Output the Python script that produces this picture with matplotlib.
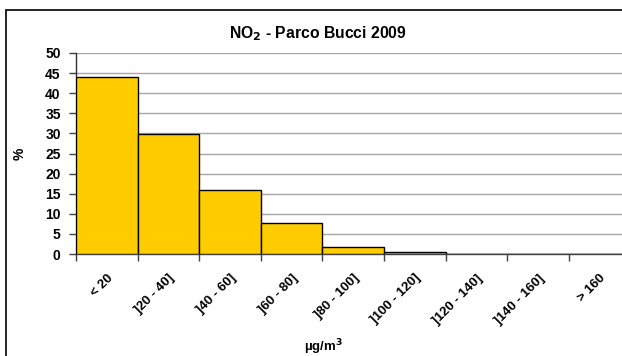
import matplotlib
matplotlib.use("Agg")
import matplotlib.pyplot as plt
from matplotlib.patches import Rectangle
import matplotlib.transforms as mtransforms

plt.rcParams['font.family'] = ['Liberation Sans', 'DejaVu Sans']
plt.rcParams['font.weight'] = 'bold'

categories = ["< 20", "]20 - 40]", "]40 - 60]", "]60 - 80]", "]80 - 100]",
              "]100 - 120]", "]120 - 140]", "]140 - 160]", "> 160"]
values = [44.0, 29.8, 15.9, 7.8, 1.75, 0.5, 0.0, 0.0, 0.0]
yticks = [0, 5, 10, 15, 20, 25, 30, 35, 40, 45, 50]

W, H = 622, 356
fig = plt.figure(figsize=(W / 100, H / 100), dpi=100)

# outer chart frame (extends beyond right/bottom like the cropped original)
fig.patches.append(Rectangle((5.5 / W, -0.1), 1.2, (H - 10) / H + 0.1,
                             transform=fig.transFigure, fill=False,
                             edgecolor='black', lw=1.2))

left, right, top, bottom = 76, 640, 53, 254
ax = fig.add_axes([left / W, (H - bottom) / H, (right - left) / W, (bottom - top) / H])
catw = 61.6
ncat = (right - left) / catw
x = list(range(len(categories)))
ax.bar(x, values, width=1.0, color='#FFCC00', edgecolor='black', lw=1.0, zorder=3)
ax.set_xlim(-0.5, -0.5 + ncat)
ax.set_ylim(0, 50)
ax.set_yticks(yticks)
ax.set_yticklabels([str(v) for v in yticks], fontsize=10, fontweight='bold')
ax.yaxis.grid(True, color='#A6A6A6', lw=1.0, zorder=0)
ax.set_axisbelow(True)

boundaries = [i - 0.5 for i in range(len(categories) + 1)]
ax.set_xticks(boundaries)
ax.set_xticklabels([])
ax.set_xticks(x, minor=True)
ax.set_xticklabels(categories, minor=True, rotation=45, ha='right', va='top',
                   rotation_mode='anchor', fontsize=9.5, fontweight='bold')
offset = mtransforms.ScaledTranslation(-7 / 100, 0, fig.dpi_scale_trans)
for lab in ax.xaxis.get_minorticklabels():
    lab.set_transform(lab.get_transform() + offset)
ax.tick_params(axis='x', which='minor', length=0, pad=13)
ax.tick_params(axis='x', which='major', length=5, width=1, color='#404040', direction='out')
ax.tick_params(axis='y', length=5, width=1, color='#404040', pad=6)

for s in ['top', 'right']:
    ax.spines[s].set_visible(False)
ax.spines['left'].set_color('#303030')
ax.spines['bottom'].set_color('#404040')
ax.spines['left'].set_linewidth(1.0)
ax.spines['bottom'].set_linewidth(1.0)

fig.text(318 / W, 1 - 33.5 / H, "NO$_2$ - Parco Bucci 2009", ha='center', va='center',
         fontsize=11.3, fontweight='bold')
fig.text(20 / W, 1 - 154 / H, "%", rotation=90, ha='center', va='center',
         fontsize=10, fontweight='bold')
fig.text(323 / W, 1 - 347 / H, "µg/m$^3$", ha='center', va='center',
         fontsize=9.5, fontweight='bold')

fig.savefig("out.png", dpi=100)
